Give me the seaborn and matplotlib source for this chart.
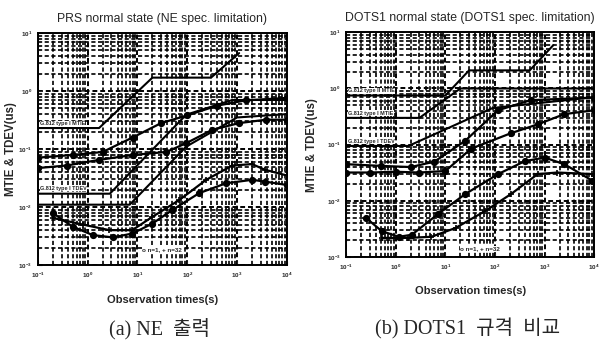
import numpy as np
import matplotlib
matplotlib.use("Agg")
import matplotlib.pyplot as plt
import seaborn as sns
from matplotlib.ticker import LogLocator, NullFormatter, FixedLocator

sns.set_style("ticks")
plt.rcParams['font.family'] = ['Liberation Sans', 'DejaVu Sans']
plt.rcParams['mathtext.fontset'] = 'custom'
plt.rcParams['mathtext.rm'] = 'Liberation Sans:bold'

# ---- (a) PRS normal state (NE spec) ----
a_mask1_x = [0.1, 1.7, 20, 300, 1100]
a_mask1_y = [0.23, 0.23, 1.7, 1.7, 4.5]
a_mask2_x = [0.1, 2.8, 95, 800, 10000]
a_mask2_y = [0.017, 0.017, 0.39, 0.7, 0.7]
a_mask3_x = [0.1, 7, 95, 1000, 10000]
a_mask3_y = [0.011, 0.011, 0.11, 0.35, 0.4]
a_mtie1_x = [0.1, 0.38, 1.7, 8, 38, 95, 316, 1100, 3800, 10000]
a_mtie1_y = [0.047, 0.052, 0.065, 0.079, 0.089, 0.126, 0.214, 0.28, 0.32, 0.32]
a_mtie2_x = [0.1, 0.5, 2, 8, 30, 100, 400, 1500, 10000]
a_mtie2_y = [0.071, 0.079, 0.089, 0.158, 0.28, 0.38, 0.56, 0.69, 0.76]
a_tdev1_x = [0.2, 0.5, 1.26, 3.2, 7.9, 20, 50, 174, 600, 2000, 3600, 10000]
a_tdev1_y = [0.0079, 0.0046, 0.0033, 0.003, 0.0035, 0.0052, 0.0089, 0.0174, 0.0257, 0.0295, 0.0275, 0.024]
a_tdev2_x = [0.2, 0.8, 2.75, 7.9, 20, 69, 240, 800, 2000, 3600, 10000]
a_tdev2_y = [0.0065, 0.005, 0.004, 0.004, 0.0068, 0.0132, 0.0295, 0.052, 0.055, 0.044, 0.035]
a_labels = ["G.812 type I MTIE", "G.812 type I TDEV"]
a_label_y = [0.25, 0.019]

# ---- (b) DOTS1 normal state (DOTS1 spec) ----
b_mask1_x = [0.1, 10, 30, 500, 1500]
b_mask1_y = [0.75, 0.75, 2.1, 2.1, 5.9]
b_mask2_x = [0.1, 3, 20, 10000]
b_mask2_y = [0.3, 0.3, 1.0, 1.0]
b_mask3_x = [0.1, 1.8, 90, 10000]
b_mask3_y = [0.095, 0.095, 0.45, 0.7]
b_mtie1_x = [0.1, 0.3, 1, 3, 10, 33, 209, 724, 2500, 10000]
b_mtie1_y = [0.032, 0.032, 0.033, 0.032, 0.034, 0.085, 0.16, 0.23, 0.35, 0.41]
b_mtie2_x = [0.1, 0.5, 2, 6, 25, 115, 525, 10000]
b_mtie2_y = [0.045, 0.042, 0.04, 0.05, 0.117, 0.41, 0.62, 0.69]
b_tdev1_x = [0.25, 0.52, 1.15, 2.1, 7.2, 25, 115, 400, 1000, 2500, 9100]
b_tdev1_y = [0.005, 0.0029, 0.0023, 0.0025, 0.0059, 0.0132, 0.030, 0.051, 0.059, 0.045, 0.023]
b_tdev2_x = [0.52, 1.8, 5.2, 16, 63, 209, 724, 1800, 9100]
b_tdev2_y = [0.0022, 0.0022, 0.0023, 0.0033, 0.0066, 0.0132, 0.030, 0.032, 0.030]
b_labels = ["G.812 type II MTIE", "G.812 type I MTIE", "G.812 type I TDEV"]
b_label_y = [0.82, 0.33, 0.105]

x_ticks = [0.1, 1, 10, 100, 1000, 10000]
x_ticklabels = [r"$10^{-1}$", r"$10^{0}$", r"$10^{1}$", r"$10^{2}$", r"$10^{3}$", r"$10^{4}$"]
y_ticks = [0.001, 0.01, 0.1, 1, 10]
y_ticklabels = [r"$10^{-3}$", r"$10^{-2}$", r"$10^{-1}$", r"$10^{0}$", r"$10^{1}$"]


def draw_panel(ax, masks, measured, labels, label_y, title, note, note_xy, ylab_x):
    for mx, my in masks:
        sns.lineplot(x=mx, y=my, ax=ax, color='black', lw=1.5, sort=False, estimator=None)
    for (mx, my), mk in measured:
        sns.lineplot(x=mx, y=my, ax=ax, color='black', lw=1.6, sort=False, estimator=None,
                     marker=mk, markersize=4, markeredgewidth=1.2,
                     markeredgecolor='black', markerfacecolor='black')
    ax.set_xscale('log')
    ax.set_yscale('log')
    ax.set_xlim(0.1, 10000)
    ax.set_ylim(0.001, 10)
    ax.xaxis.set_major_locator(FixedLocator(x_ticks))
    ax.yaxis.set_major_locator(FixedLocator(y_ticks))
    ax.set_xticklabels(x_ticklabels)
    ax.set_yticklabels(y_ticklabels)
    ax.xaxis.set_minor_locator(LogLocator(base=10, subs=np.arange(2, 10)))
    ax.yaxis.set_minor_locator(LogLocator(base=10, subs=np.arange(2, 10)))
    ax.xaxis.set_minor_formatter(NullFormatter())
    ax.yaxis.set_minor_formatter(NullFormatter())
    ax.tick_params(which='both', direction='in', labelsize=4.5, length=3, width=0.8, pad=4)
    ax.tick_params(which='minor', length=1.5)
    ax.grid(which='major', color='black', ls=(0, (2.5, 1.5)), lw=1.4)
    ax.grid(which='minor', color='black', ls=(0, (2.5, 1.5)), lw=1.2)
    for s in ax.spines.values():
        s.set_color('black')
        s.set_linewidth(1.4)
    for t, yv in zip(labels, label_y):
        ax.text(0.11, yv, t, fontsize=4, fontweight='bold', va='bottom', ha='left',
                bbox=dict(facecolor='white', edgecolor='none', pad=0.2))
    ax.text(note_xy[0], note_xy[1], note, transform=ax.transAxes, fontsize=4.5, fontweight='bold',
            bbox=dict(facecolor='white', edgecolor='none', pad=0.2))
    ax.set_title(title, fontsize=8.8, pad=8)
    ax.set_xlabel("Observation times(s)", fontsize=8, fontweight='bold')
    ax.xaxis.set_label_coords(0.5, -0.13)
    ax.set_ylabel("MTIE & TDEV(us)", fontsize=8.3, fontweight='bold')
    ax.yaxis.set_label_coords(ylab_x, 0.5)


fig = plt.figure(figsize=(5.99, 3.47), dpi=100)
ax1 = fig.add_axes([0.063, 0.236, 0.416, 0.669])
ax2 = fig.add_axes([0.578, 0.259, 0.414, 0.648])

draw_panel(ax1,
           [(a_mask1_x, a_mask1_y), (a_mask2_x, a_mask2_y), (a_mask3_x, a_mask3_y)],
           [((a_mtie1_x, a_mtie1_y), 'o'), ((a_mtie2_x, a_mtie2_y), 'o'),
            ((a_tdev1_x, a_tdev1_y), 'o'), ((a_tdev2_x, a_tdev2_y), '+')],
           a_labels, a_label_y,
           "PRS normal state (NE spec. limitation)", "o n=1, + n=32", (0.42, 0.06), -0.085)
draw_panel(ax2,
           [(b_mask1_x, b_mask1_y), (b_mask2_x, b_mask2_y), (b_mask3_x, b_mask3_y)],
           [((b_mtie1_x, b_mtie1_y), 'o'), ((b_mtie2_x, b_mtie2_y), 'o'),
            ((b_tdev1_x, b_tdev1_y), 'o'), ((b_tdev2_x, b_tdev2_y), '+')],
           b_labels, b_label_y,
           "DOTS1 normal state (DOTS1 spec. limitation)", "o n=1, + n=32", (0.46, 0.03), -0.115)

cap_font = ['Liberation Serif', 'Noto Sans CJK KR']
fig.text(0.267, 0.035, "(a) NE  출력", fontsize=14.5, family=cap_font, ha='center')
fig.text(0.78, 0.035, "(b) DOTS1  규격  비교", fontsize=14.5, family=cap_font, ha='center')

fig.savefig("out.png", dpi=100)
